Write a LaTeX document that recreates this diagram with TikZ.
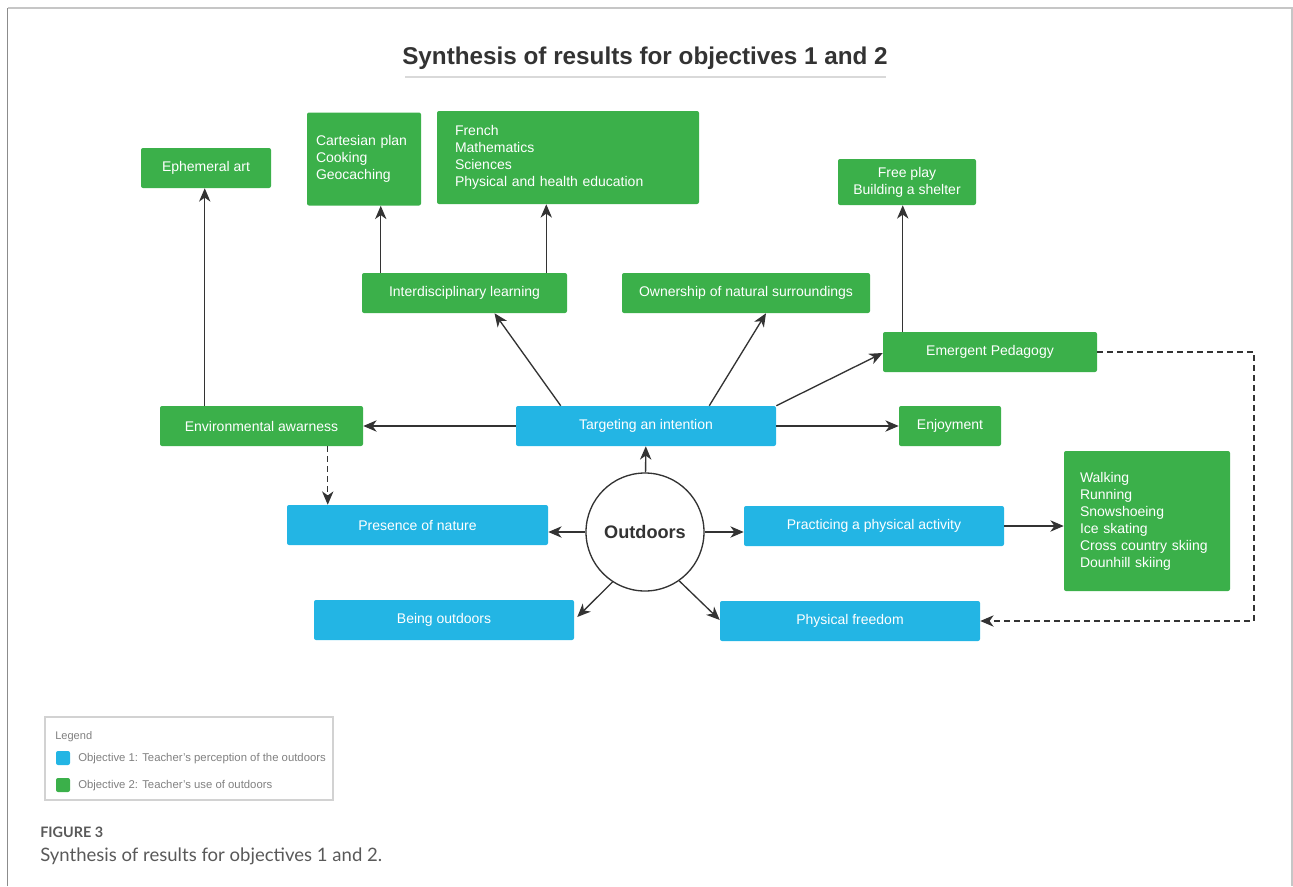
\documentclass[tikz,border=0pt]{standalone}
\usepackage{fontspec}
\setmainfont{Liberation Sans}
\newfontfamily\capfont{Lato}
\usetikzlibrary{arrows.meta,calc}
\definecolor{gfill}{HTML}{3BB04A}
\definecolor{bfill}{HTML}{23B5E4}
\definecolor{ink}{HTML}{333333}
\begin{document}
\begin{tikzpicture}[x=0.75pt,y=-0.75pt,
  bx/.style 2 args={minimum width=#1*0.75pt, minimum height=#2*0.75pt, inner sep=0pt, rounded corners=1.5pt, text=white, font=\fontsize{10.5pt}{12.75pt}\selectfont},
  gbox/.style={fill=gfill},
  bbox/.style={fill=bfill},
  arr/.style={draw=ink, line width=1pt, -{Stealth[length=10pt,width=8.5pt,inset=3pt]}},
  dsh/.style={arr, dash pattern=on 4pt off 3.5pt}]
\useasboundingbox (0,0) rectangle (1293,886);
% frame
\draw[draw=gray!90, line width=1pt] (7.5,886) -- (7.5,8);
\draw[draw=gray!45, line width=1pt] (7.5,8) -- (1292,8) -- (1292,886);
% title
\node[font=\bfseries\fontsize{18.2pt}{20pt}\selectfont, text=ink] (title) at (645,58) {Synthesis of results for objectives 1 and 2};
\draw[gray!30, line width=0.8pt] (405,77) -- (886,77);
% green nodes
\node[bx={130}{40}, gbox] (eph) at (206,168) {Ephemeral art};
\node[bx={114}{93}, gbox, align=left, text width=96*0.75pt] (cart) at (364,159) {Cartesian plan\\Cooking\\Geocaching};
\node[bx={262}{93}, gbox, align=left, text width=226*0.75pt] (french) at (568,157.5) {French\\Mathematics\\Sciences\\Physical and health education};
\node[bx={138}{46}, gbox, align=center] (free) at (907,182) {Free play\\Building a shelter};
\node[bx={205}{40}, gbox] (inter) at (464.5,293) {Interdisciplinary learning};
\node[bx={248}{40}, gbox] (own) at (746,293) {Ownership of natural surroundings};
\node[bx={214}{40}, gbox] (emerg) at (990,352) {Emergent Pedagogy};
\node[bx={203}{40}, gbox] (env) at (261.5,426) {Environmental awarness};
\node[bx={102}{40}, gbox] (enjoy) at (950,426) {Enjoyment};
\node[bx={166}{140}, gbox, align=left, text width=134*0.75pt] (walk) at (1147,521) {Walking\\Running\\Snowshoeing\\Ice skating\\Cross country skiing\\Dounhill skiing};
% blue nodes
\node[bx={260}{40}, bbox] (target) at (646,426) {Targeting an intention};
\node[bx={261}{40}, bbox] (pres) at (417.5,525) {Presence of nature};
\node[bx={260}{40}, bbox] (pract) at (874,526) {Practicing a physical activity};
\node[bx={260}{40}, bbox] (being) at (444,620) {Being outdoors};
\node[bx={260}{40}, bbox] (freedom) at (850,621) {Physical freedom};
% center
\node[circle, draw=ink, line width=1pt, fill=white, minimum size=118*0.75pt, inner sep=0pt, text=ink, font=\bfseries\fontsize{13.6pt}{16pt}\selectfont] (outd) at (645,532) {Outdoors};
% arrows from Outdoors
\draw[arr] (outd) -- (target);
\draw[arr] (outd.west) -- (outd.west -| pres.east);
\draw[arr] (outd.east) -- (outd.east -| pract.west);
\draw[arr] (outd.-123) -- ($(being.east)+(3,-3)$);
\draw[arr] (outd.-55) -- ($(freedom.west)+(0,-1)$);
% arrows from Targeting
\draw[arr] (target.west) -- (env.east);
\draw[arr] (target.east) -- (enjoy.west);
\draw[arr] ($(target.north west)+(45,0)$) -- ($(inter.south)+(30,0)$);
\draw[arr] ($(target.north east)+(-67,0)$) -- ($(own.south)+(20,0)$);
\draw[arr] (target.north east) -- ($(emerg.west)+(0,1)$);
% upward arrows
\coordinate (i1) at ($(inter.north west)+(19,0)$);
\coordinate (i2) at ($(inter.north east)+(-21,0)$);
\coordinate (e1) at ($(emerg.north west)+(20,0)$);
\coordinate (v1) at ($(env.north west)+(45,0)$);
\coordinate (v2) at ($(env.south west)+(168,0)$);
\draw[arr] (i1) -- (i1 |- cart.south);
\draw[arr] (i2) -- (i2 |- french.south);
\draw[arr] (e1) -- (e1 |- free.south);
\draw[arr] (v1) -- (v1 |- eph.south);
\draw[dsh] (v2) -- (v2 |- pres.north);
\draw[arr] (pract.east) -- (pract.east -| walk.west);
\coordinate (dr) at (1254,0);
\draw[dsh] (emerg.east) -- (emerg.east -| dr) -- (freedom.east -| dr) -- (freedom.east);
% legend
\node[draw=gray!35, line width=0.8pt, minimum width=288*0.75pt, minimum height=83*0.75pt, inner sep=0pt] (leg) at (189,758.5) {};
\node[anchor=west, text=gray, font=\fontsize{8.3pt}{9pt}\selectfont, inner sep=0pt] (legt) at (55,737) {Legend};
\node[fill=bfill, rounded corners=1.5pt, minimum size=14*0.75pt, inner sep=0pt] (lb) at (63,758) {};
\node[fill=gfill, rounded corners=1.5pt, minimum size=14*0.75pt, inner sep=0pt] (lg) at (63,785) {};
\node[anchor=west, text=gray, font=\fontsize{8.5pt}{9pt}\selectfont, inner sep=0pt] (l1) at (78,759) {Objective 1: Teacher’s perception of the outdoors};
\node[anchor=west, text=gray, font=\fontsize{8.5pt}{9pt}\selectfont, inner sep=0pt] (l2) at (78,786) {Objective 2: Teacher’s use of outdoors};
% caption
\node[anchor=west, text=black!65, font=\capfont\bfseries\fontsize{10.8pt}{12pt}\selectfont, inner sep=0pt] (fig) at (40,832) {FIGURE 3};
\node[anchor=west, text=black!65, font=\capfont\fontsize{13.9pt}{15pt}\selectfont, inner sep=0pt] (cap) at (40,856) {Synthesis of results for objectives 1 and 2.};
\end{tikzpicture}
\end{document}
